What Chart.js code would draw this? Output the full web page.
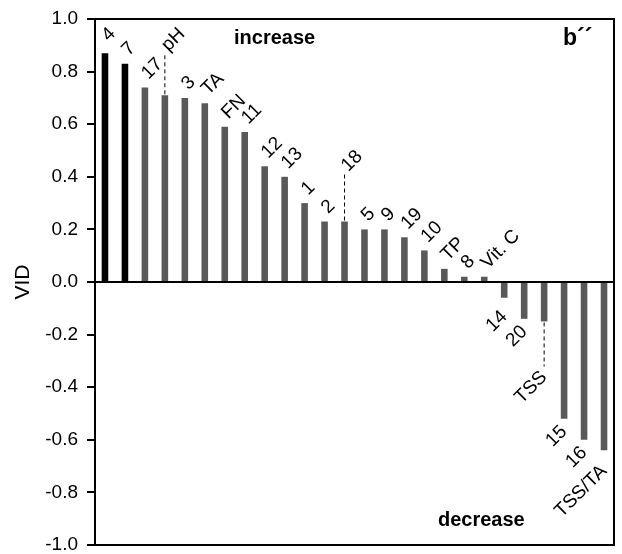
<!DOCTYPE html>
<html>
<head>
<meta charset="utf-8">
<script src="https://cdn.jsdelivr.net/npm/chart.js@4"></script>
<style>
  html, body { margin: 0; padding: 0; background: #fff; }
  #wrap { width: 622px; height: 554px; }
</style>
</head>
<body>
<div id="wrap"><canvas id="vid-chart"></canvas></div>
<script>
// bar labels, left to right
const categories = ['4', '7', '17', 'pH', '3', 'TA', 'FN', '11', '12', '13', '1', '2', '18',
                    '5', '9', '19', '10', 'TP', '8', 'Vit. C', '14', '20', 'TSS', '15', '16', 'TSS/TA'];
// VID values
const vidValues = [0.87, 0.83, 0.74, 0.71, 0.70, 0.68, 0.59, 0.57, 0.44, 0.40, 0.30, 0.23, 0.23,
                   0.20, 0.20, 0.17, 0.12, 0.05, 0.02, 0.02, -0.06, -0.14, -0.15, -0.52, -0.60, -0.64];
const yTicks = [-1.0, -0.8, -0.6, -0.4, -0.2, 0.0, 0.2, 0.4, 0.6, 0.8, 1.0];

const FONT = "'Liberation Sans', Arial, sans-serif";

// first two bars are black, rest dark grey
const barColors = categories.map((c, i) => i < 2 ? '#000000' : '#595959');

// rotated labels at the end of every bar, some moved off with a dashed leader
const barLabels = {
    id: 'barLabels',
    afterDatasetsDraw(chart, args, opts) {
        const ctx = chart.ctx;
        const meta = chart.getDatasetMeta(0);
        ctx.save();
        ctx.font = '19px ' + FONT;
        ctx.fillStyle = '#000';
        ctx.strokeStyle = '#000';
        ctx.lineWidth = 1;
        meta.data.forEach((bar, i) => {
            const name = categories[i];
            const v = vidValues[i];
            const lead = opts.leaders[name] || 0;
            const nudge = opts.nudge[name] || 0;
            let ax, ay;
            if (v >= 0) {
                ax = bar.x;
                ay = bar.y - 11 - lead - nudge;
                if (lead) {
                    ctx.setLineDash([4, 3]);
                    ctx.beginPath();
                    ctx.moveTo(bar.x, bar.y - 1);
                    ctx.lineTo(bar.x, ay + 6);
                    ctx.stroke();
                    ctx.setLineDash([]);
                }
                ctx.textAlign = 'left';
            } else {
                ax = bar.x;
                ay = bar.y + 10 + lead + nudge;
                if (lead) {
                    ctx.setLineDash([4, 3]);
                    ctx.beginPath();
                    ctx.moveTo(bar.x, bar.y + 1);
                    ctx.lineTo(bar.x, ay - 8);
                    ctx.stroke();
                    ctx.setLineDash([]);
                }
                ctx.textAlign = 'right';
            }
            ctx.save();
            ctx.translate(ax, ay);
            ctx.rotate(-Math.PI / 4);
            ctx.textBaseline = 'middle';
            ctx.fillText(name, 0, 0);
            ctx.restore();
        });
        ctx.restore();
    }
};

// frame around plot + the text notes
const frameNotes = {
    id: 'frameNotes',
    afterDraw(chart) {
        const ctx = chart.ctx;
        const a = chart.chartArea;
        ctx.save();
        ctx.strokeStyle = '#000';
        ctx.lineWidth = 2;
        ctx.beginPath();
        ctx.moveTo(a.left, a.top);
        ctx.lineTo(a.right, a.top);
        ctx.lineTo(a.right, a.bottom);
        ctx.lineTo(a.left, a.bottom);
        ctx.stroke();

        ctx.fillStyle = '#000';
        ctx.textAlign = 'left';
        ctx.textBaseline = 'alphabetic';
        ctx.font = 'bold 20px ' + FONT;
        ctx.fillText('increase', a.left + 139, a.top + 25);
        ctx.fillText('decrease', a.left + 343, a.bottom - 19);
        ctx.font = 'bold 23px ' + FONT;
        ctx.fillText('b\u00B4\u00B4', a.right - 51, a.top + 26);
        ctx.restore();
    }
};

const ctx = document.getElementById('vid-chart');
const myChart = new Chart(ctx, {
    type: 'bar',
    data: {
        labels: categories,
        datasets: [{
            data: vidValues,
            backgroundColor: barColors,
            borderWidth: 0,
            barPercentage: 0.33,
            categoryPercentage: 1
        }]
    },//data
    options: {
        responsive: true,
        maintainAspectRatio: false,
        animation: false,
        layout: { padding: { top: 19, right: 8, bottom: 9, left: 0 } },
        plugins: {
            legend: { display: false },
            tooltip: { enabled: false },
            barLabels: {
                leaders: { 'pH': 36, '18': 42, 'TSS': 43 },
                nudge: { '4': 4, '14': 6, 'TSS/TA': 8 }
            }
        },
        scales: {
            x: { display: false },
            y: {
                min: -1,
                max: 1,
                afterFit(scale) {
                    scale.width = 95;
                    scale.paddingTop = 0;
                    scale.paddingBottom = 0;
                },
                afterBuildTicks(scale) { scale.ticks = yTicks.map(v => ({ value: v })); },
                ticks: {
                    color: '#000',
                    padding: 9,
                    font: { family: FONT, size: 19 },
                    callback: v => (Math.abs(v) < 1e-9 ? 0 : v).toFixed(1)
                },
                grid: {
                    drawOnChartArea: true,
                    color: c => (c.tick && Math.abs(c.tick.value) < 1e-9) ? '#000' : 'rgba(0,0,0,0)',
                    lineWidth: 2,
                    tickColor: '#000',
                    tickLength: 8,
                    tickWidth: 2
                },
                border: { display: true, color: '#000', width: 2 },
                title: {
                    display: true,
                    text: 'VID',
                    color: '#000',
                    font: { family: FONT, size: 21 },
                    padding: { top: 11, bottom: 0 }
                }
            }
        }
    },//options
    plugins: [barLabels, frameNotes]
});//new Chart
</script>
</body>
</html>
